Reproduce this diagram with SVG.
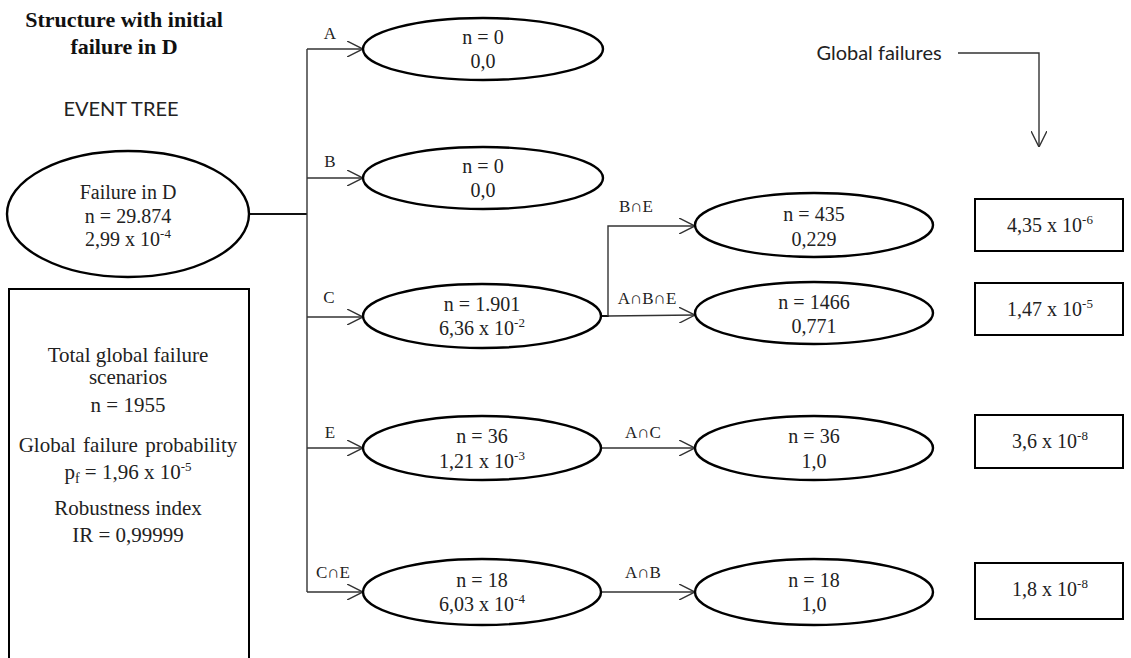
<svg xmlns="http://www.w3.org/2000/svg" width="1131" height="658" viewBox="0 0 1131 658">
<style>
.el{fill:#fff;stroke:#000;stroke-width:2.4}
.bx{fill:#fff;stroke:#000;stroke-width:2}
.cn{fill:none;stroke:#333;stroke-width:1.4}
.t{font-family:"Liberation Serif","Times New Roman",serif;font-size:20px;fill:#222;text-anchor:middle}
.lb{font-family:"Liberation Serif","Times New Roman",serif;font-size:17px;fill:#222;text-anchor:middle}
.bt{font-family:"Liberation Serif","Times New Roman",serif;font-size:21px;fill:#222;text-anchor:middle}
.sans{font-family:Lato,"Liberation Sans",sans-serif;font-size:20px;fill:#222;text-anchor:middle}
.ttl{font-family:"Liberation Serif","Times New Roman",serif;font-size:22px;font-weight:bold;fill:#111;text-anchor:middle}
.sup{font-size:13px}
</style>
<defs>
<marker id="arr" viewBox="0 0 16 16" refX="16" refY="8" markerWidth="16" markerHeight="16" orient="auto" markerUnits="userSpaceOnUse">
<path d="M0,0 L16,8 L0,16" fill="none" stroke="#333" stroke-width="1.4"/>
</marker>
</defs>

<g id="title">
<text class="ttl" x="124" y="27">Structure with initial</text>
<text class="ttl" x="124" y="54">failure in D</text>
<text class="sans" x="121" y="116">EVENT TREE</text>
</g>

<g id="global-label">
<text class="sans" x="879" y="60" font-size="18.5">Global failures</text>
</g>

<g id="connectors">
<line x1="249" y1="214" x2="307" y2="214" stroke="#111" stroke-width="2.2"/>
<line class="cn" x1="307" y1="49" x2="307" y2="592"/>
<line class="cn" x1="307" y1="49" x2="363" y2="49" marker-end="url(#arr)"/>
<line class="cn" x1="307" y1="178" x2="363" y2="178" marker-end="url(#arr)"/>
<line class="cn" x1="307" y1="317" x2="363" y2="317" marker-end="url(#arr)"/>
<line class="cn" x1="307" y1="448" x2="363" y2="448" marker-end="url(#arr)"/>
<line class="cn" x1="307" y1="592" x2="363" y2="592" marker-end="url(#arr)"/>
<line x1="600" y1="316" x2="609" y2="316" stroke="#111" stroke-width="2"/>
<polyline class="cn" points="608,316 608,226 695,226" marker-end="url(#arr)"/>
<line class="cn" x1="608" y1="316" x2="695" y2="315" marker-end="url(#arr)"/>
<line class="cn" x1="600" y1="448" x2="695" y2="448" marker-end="url(#arr)"/>
<line class="cn" x1="600" y1="592" x2="695" y2="592" marker-end="url(#arr)"/>
<polyline class="cn" points="958,53 1039,53 1039,147" marker-end="url(#arr)"/>
<text class="lb" x="330" y="39">A</text>
<text class="lb" x="330" y="167">B</text>
<text class="lb" x="329" y="303">C</text>
<text class="lb" x="330" y="438">E</text>
<text class="lb" x="333" y="578">C∩E</text>
<text class="lb" x="636" y="212">B∩E</text>
<text class="lb" x="647" y="304">A∩B∩E</text>
<text class="lb" x="643" y="438">A∩C</text>
<text class="lb" x="643" y="578">A∩B</text>
</g>

<g id="root">
<ellipse class="el" cx="128" cy="214" rx="121" ry="63"/>
<text class="t" x="128" y="199">Failure in D</text>
<text class="t" x="128" y="223">n = 29.874</text>
<text class="t" x="128" y="246">2,99 x 10<tspan class="sup" dy="-8">-4</tspan></text>
</g>

<g id="summary">
<path d="M9,670 L9,289 L249,289 L249,670" fill="none" stroke="#000" stroke-width="2"/>
<text class="bt" x="128" y="362">Total global failure</text>
<text class="bt" x="128" y="384">scenarios</text>
<text class="bt" x="128" y="412">n = 1955</text>
<text class="bt" x="128" y="452" word-spacing="2">Global failure probability</text>
<text class="bt" x="128" y="479">p<tspan font-size="14" dy="4">f</tspan><tspan dy="-4"> = 1,96 x 10</tspan><tspan class="sup" dy="-8">-5</tspan></text>
<text class="bt" x="128" y="515">Robustness index</text>
<text class="bt" x="128" y="542">IR = 0,99999</text>
</g>

<g id="nA">
<ellipse class="el" cx="483" cy="49" rx="120" ry="31"/>
<text class="t" x="483" y="44">n = 0</text>
<text class="t" x="483" y="68">0,0</text>
</g>
<g id="nB">
<ellipse class="el" cx="483" cy="178" rx="120" ry="31"/>
<text class="t" x="483" y="173">n = 0</text>
<text class="t" x="483" y="197">0,0</text>
</g>
<g id="nC">
<ellipse class="el" cx="482" cy="316" rx="119" ry="32"/>
<text class="t" x="482" y="311">n = 1.901</text>
<text class="t" x="482" y="335">6,36 x 10<tspan class="sup" dy="-8">-2</tspan></text>
</g>
<g id="nE">
<ellipse class="el" cx="482" cy="448" rx="119" ry="32"/>
<text class="t" x="482" y="443">n = 36</text>
<text class="t" x="482" y="468">1,21 x 10<tspan class="sup" dy="-8">-3</tspan></text>
</g>
<g id="nCE">
<ellipse class="el" cx="482" cy="592" rx="119" ry="33"/>
<text class="t" x="482" y="587">n = 18</text>
<text class="t" x="482" y="611">6,03 x 10<tspan class="sup" dy="-8">-4</tspan></text>
</g>

<g id="nBE">
<ellipse class="el" cx="814" cy="225" rx="119" ry="32"/>
<text class="t" x="814" y="221">n = 435</text>
<text class="t" x="814" y="246">0,229</text>
</g>
<g id="nABE">
<ellipse class="el" cx="814" cy="313" rx="119" ry="31"/>
<text class="t" x="814" y="309">n = 1466</text>
<text class="t" x="814" y="333">0,771</text>
</g>
<g id="nAC">
<ellipse class="el" cx="814" cy="448" rx="119" ry="32"/>
<text class="t" x="814" y="443">n = 36</text>
<text class="t" x="814" y="468">1,0</text>
</g>
<g id="nAB">
<ellipse class="el" cx="814" cy="592" rx="119" ry="33"/>
<text class="t" x="814" y="587">n = 18</text>
<text class="t" x="814" y="611">1,0</text>
</g>

<g id="g1">
<rect class="bx" x="975" y="199" width="148" height="52"/>
<text class="t" x="1050" y="232">4,35 x 10<tspan class="sup" dy="-8">-6</tspan></text>
</g>
<g id="g2">
<rect class="bx" x="975" y="283" width="148" height="52"/>
<text class="t" x="1050" y="316">1,47 x 10<tspan class="sup" dy="-8">-5</tspan></text>
</g>
<g id="g3">
<rect class="bx" x="975" y="415" width="148" height="53"/>
<text class="t" x="1050" y="448">3,6 x 10<tspan class="sup" dy="-8">-8</tspan></text>
</g>
<g id="g4">
<rect class="bx" x="975" y="563" width="148" height="56"/>
<text class="t" x="1050" y="596">1,8 x 10<tspan class="sup" dy="-8">-8</tspan></text>
</g>
</svg>
